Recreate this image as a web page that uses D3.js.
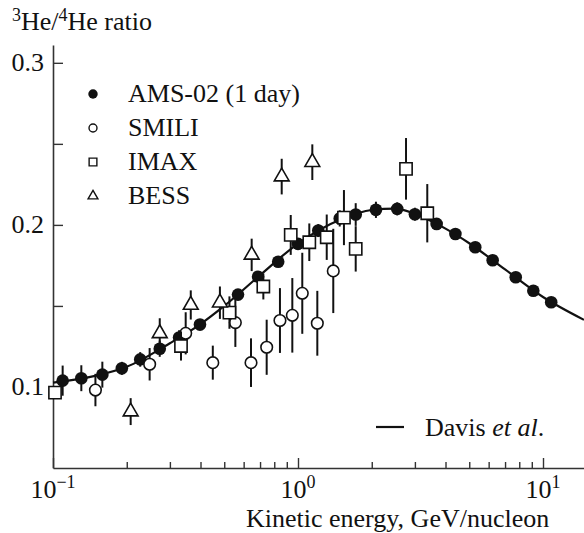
<!DOCTYPE html>
<html>
<head>
<meta charset="utf-8">
<script src="https://cdn.jsdelivr.net/npm/d3@7"></script>
<style>
  html, body { margin: 0; padding: 0; background: #fff; }
  svg { display: block; font-family: "Liberation Serif", "Times New Roman", serif; }
</style>
</head>
<body>
<svg id="chart" width="584" height="533"></svg>
<script>
// AMS-02 (1 day) simulated measurement: energy [GeV/nucleon], ratio, error
const amsEnergy = [0.1095, 0.1305, 0.159, 0.191, 0.227, 0.2727, 0.327, 0.398, 0.569, 0.687, 0.83, 1.0, 1.21, 1.48, 1.72, 2.08, 2.54, 3.0, 3.68, 4.39, 5.29, 6.23, 7.74, 9.13, 10.8];
const amsRatio  = [0.1039, 0.1054, 0.1076, 0.1115, 0.117, 0.1236, 0.1305, 0.1385, 0.157, 0.168, 0.1773, 0.1883, 0.1965, 0.204, 0.2064, 0.2093, 0.2099, 0.2066, 0.2006, 0.1944, 0.1862, 0.1782, 0.1677, 0.1594, 0.1523];
const amsError  = [0.0093, 0.008, 0.008, 0.004, 0.0045, 0.005, 0.0045, 0.003, 0.003, 0.003, 0.003, 0.003, 0.004, 0.005, 0.007, 0.005, 0.004, 0.004, 0.002, 0.002, 0.002, 0.002, 0.002, 0.002, 0.002];

// SMILI balloon data
const smiliEnergy = [0.149, 0.248, 0.348, 0.449, 0.555, 0.643, 0.745, 0.844, 0.948, 1.041, 1.199, 1.393];
const smiliRatio  = [0.0981, 0.114, 0.1331, 0.115, 0.1397, 0.115, 0.1245, 0.141, 0.1442, 0.1578, 0.1393, 0.1716];
const smiliError  = [0.01, 0.01, 0.013, 0.0105, 0.015, 0.015, 0.017, 0.02, 0.023, 0.025, 0.02, 0.026];

// IMAX balloon data
const imaxEnergy = [0.1019, 0.333, 0.525, 0.722, 0.934, 1.112, 1.31, 1.54, 1.72, 2.76, 3.37];
const imaxRatio  = [0.0965, 0.1253, 0.1459, 0.162, 0.1938, 0.1893, 0.1924, 0.2045, 0.1852, 0.2346, 0.2072];
const imaxError  = [0.0, 0.009, 0.01, 0.008, 0.0123, 0.0116, 0.014, 0.017, 0.014, 0.019, 0.018];

// BESS balloon data
const bessEnergy = [0.2075, 0.2727, 0.365, 0.48, 0.647, 0.858, 1.144];
const bessRatio  = [0.0848, 0.1331, 0.1506, 0.152, 0.1815, 0.2298, 0.2387];
const bessError  = [0.0083, 0.0093, 0.009, 0.01, 0.01, 0.011, 0.011];

// Davis et al. model curve
const davisEnergy = [0.1, 0.15, 0.2, 0.3, 0.4, 0.5, 0.7, 1.0, 1.5, 2.0, 2.5, 3.0, 4.0, 5.0, 7.0, 10.0, 14.7];
const davisRatio  = [0.1027, 0.107, 0.1125, 0.127, 0.1388, 0.150, 0.169, 0.1885, 0.2035, 0.2092, 0.2100, 0.2068, 0.1977, 0.1887, 0.1725, 0.1555, 0.1414];

// Axis ticks
const xMajorTicks = [0.1, 1, 10];
const xMajorExp = ["\u22121", "0", "1"];
const xMinorTicks = [0.2, 0.3, 0.4, 0.5, 0.6, 0.7, 0.8, 0.9, 2, 3, 4, 5, 6, 7, 8, 9];
const yTicks = [0.1, 0.15, 0.2, 0.25, 0.3];
const yLabels = [0.1, 0.2, 0.3];

const legendNames = ["AMS-02 (1 day)", "SMILI", "IMAX", "BESS"];

const svg = d3.select("#chart");
const FS = 26;
const FS_SUP = 18;

const x = d3.scaleLog().domain([0.1, 14.7]).range([53, 584]);
const y = d3.scaleLinear().domain([0.05, 0.311]).range([468, 45]);

const ink = "#111";
const axisColor = "#333";

// Axes (ticks point inward)
const gx = svg.append("g").attr("transform", `translate(0,${y(0.05)})`);
gx.call(d3.axisBottom(x).tickValues(xMajorTicks).tickSize(-10).tickSizeOuter(0).tickFormat(""));
const gxm = svg.append("g").attr("transform", `translate(0,${y(0.05)})`);
gxm.call(d3.axisBottom(x).tickValues(xMinorTicks).tickSize(-6).tickSizeOuter(0).tickFormat(""));
gxm.select(".domain").remove();

const gy = svg.append("g").attr("transform", `translate(${x(0.1)},0)`);
gy.call(d3.axisLeft(y).tickValues(yTicks).tickSize(-10).tickSizeOuter(0).tickFormat(""));

svg.selectAll(".domain").attr("stroke", axisColor).attr("stroke-width", 1.6);
svg.selectAll(".tick line").attr("stroke", axisColor).attr("stroke-width", 1.4);

// Y tick labels
svg.append("g").selectAll("text").data(yLabels).join("text")
  .attr("x", 44).attr("y", d => y(d) + 8)
  .attr("text-anchor", "end")
  .attr("font-size", FS).attr("fill", ink)
  .text(d => d3.format(".1f")(d));

// X tick labels 10^n
const xl = svg.append("g").selectAll("text").data(xMajorTicks).join("text")
  .attr("x", d => x(d)).attr("y", 498)
  .attr("text-anchor", "middle")
  .attr("font-size", FS).attr("fill", ink);
xl.append("tspan").text("10");
xl.append("tspan").attr("dy", -10).attr("font-size", FS_SUP).text((d, i) => xMajorExp[i]);

// Axis titles
const yt = svg.append("text").attr("x", 12).attr("y", 30).attr("font-size", FS).attr("fill", ink);
yt.append("tspan").attr("font-size", FS_SUP).attr("dy", -9).text("3");
yt.append("tspan").attr("dy", 9).text("He/");
yt.append("tspan").attr("font-size", FS_SUP).attr("dy", -9).text("4");
yt.append("tspan").attr("dy", 9).text("He ratio");

svg.append("text").attr("x", 246).attr("y", 527)
  .attr("font-size", FS).attr("fill", ink)
  .text("Kinetic energy, GeV/nucleon");

// Model curve
const line = d3.line()
  .x(d => x(d[0])).y(d => y(d[1]))
  .curve(d3.curveMonotoneX);
svg.append("path")
  .datum(d3.zip(davisEnergy, davisRatio))
  .attr("d", line)
  .attr("fill", "none").attr("stroke", ink).attr("stroke-width", 2.2);

// Marker drawing helpers
function errBars(g, E, V, S) {
  g.selectAll("line.err").data(d3.zip(E, V, S)).join("line")
    .attr("class", "err")
    .attr("x1", d => x(d[0])).attr("x2", d => x(d[0]))
    .attr("y1", d => y(d[1] + d[2])).attr("y2", d => y(d[1] - d[2]))
    .attr("stroke", ink).attr("stroke-width", 2);
}
const sym = {
  circle: d3.symbol().type(d3.symbolCircle),
  square: d3.symbol().type(d3.symbolSquare),
  triangle: d3.symbol().type(d3.symbolTriangle)
};
function markers(g, E, V, type, size, filled) {
  g.selectAll("path.mk").data(d3.zip(E, V)).join("path")
    .attr("class", "mk")
    .attr("transform", d => `translate(${x(d[0])},${y(d[1])})`)
    .attr("d", sym[type].size(size))
    .attr("fill", filled ? ink : "#fff")
    .attr("stroke", ink).attr("stroke-width", filled ? 0 : 1.6);
}

const gAms = svg.append("g");
errBars(gAms, amsEnergy, amsRatio, amsError);
markers(gAms, amsEnergy, amsRatio, "circle", 125, true);

const gSmili = svg.append("g");
errBars(gSmili, smiliEnergy, smiliRatio, smiliError);
markers(gSmili, smiliEnergy, smiliRatio, "circle", 105, false);

const gImax = svg.append("g");
errBars(gImax, imaxEnergy, imaxRatio, imaxError);
markers(gImax, imaxEnergy, imaxRatio, "square", 150, false);

const gBess = svg.append("g");
errBars(gBess, bessEnergy, bessRatio, bessError);
markers(gBess, bessEnergy, bessRatio, "triangle", 95, false);

// Legend
const legY = [94, 128, 162, 196];
const legSym = [["circle", 70, true], ["circle", 50, false], ["square", 60, false], ["triangle", 42, false]];
const lg = svg.append("g");
legendNames.forEach((name, i) => {
  const [t, s, f] = legSym[i];
  lg.append("path")
    .attr("transform", `translate(93,${legY[i]})`)
    .attr("d", sym[t].size(s)())
    .attr("fill", f ? ink : "#fff")
    .attr("stroke", ink).attr("stroke-width", f ? 0 : 1.4);
  lg.append("text").attr("x", 128).attr("y", legY[i] + 8)
    .attr("font-size", FS).attr("fill", ink).text(name);
});

// Model legend
svg.append("line").attr("x1", 376).attr("x2", 404).attr("y1", 427).attr("y2", 427)
  .attr("stroke", ink).attr("stroke-width", 2.2);
const dl = svg.append("text").attr("x", 425).attr("y", 436).attr("font-size", FS).attr("fill", ink);
dl.append("tspan").text("Davis ");
dl.append("tspan").attr("font-style", "italic").text("et al");
dl.append("tspan").text(".");
</script>
</body>
</html>
